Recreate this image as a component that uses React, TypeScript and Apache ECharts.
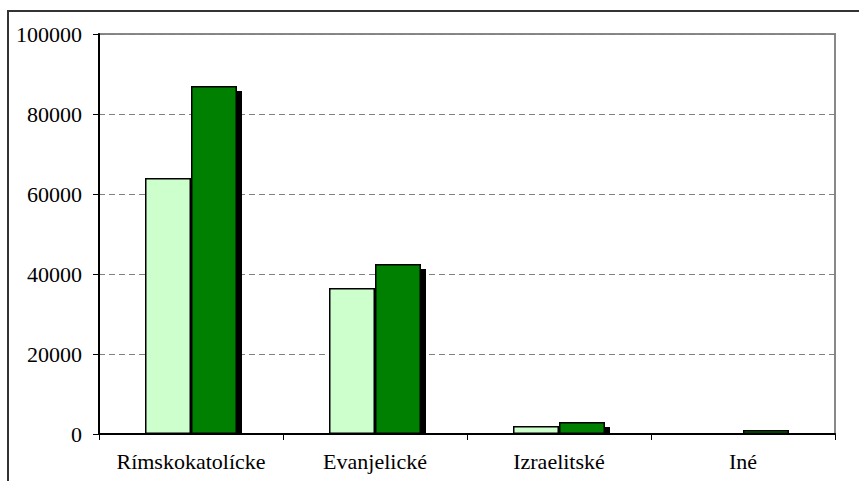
import React, { useEffect, useRef } from "react";
import * as echarts from "echarts";

const categories = ["Rímskokatolícke", "Evanjelické", "Izraelitské", "Iné"];
const seriesLight = [64000, 36500, 2000, 0];
const seriesDark = [87000, 42500, 3000, 1000];
const yTicks = [0, 20000, 40000, 60000, 80000, 100000];

const FONT = "Liberation Serif";

export default function App() {
  const ref = useRef<HTMLDivElement>(null);
  useEffect(() => {
    if (!ref.current) return;
    const chart = echarts.init(ref.current, null, { renderer: "svg" });
    const BAR_W = 46;
    const SH = 5;
    chart.setOption({
      animation: false,
      backgroundColor: "#ffffff",
      textStyle: { fontFamily: FONT },
      graphic: [
        {
          type: "rect",
          shape: { x: 8, y: 11, width: 900, height: 520 },
          style: { fill: "none", stroke: "#333333", lineWidth: 2 },
          z: 100,
          silent: true,
        },
      ],
      grid: {
        left: 99,
        right: 24,
        top: 34,
        bottom: 47,
        show: true,
        borderColor: "#888888",
        borderWidth: 2,
      },
      xAxis: {
        type: "category",
        data: categories,
        boundaryGap: true,
        axisLine: { lineStyle: { color: "#000000", width: 2 } },
        axisTick: { show: true, interval: 0, alignWithLabel: false, length: 6, lineStyle: { color: "#000000", width: 1 } },
        axisLabel: { interval: 0, color: "#000000", fontSize: 22, fontFamily: FONT, margin: 16 },
        splitLine: { show: false },
      },
      yAxis: {
        type: "value",
        min: yTicks[0],
        max: yTicks[yTicks.length - 1],
        interval: 20000,
        axisLine: { show: true, lineStyle: { color: "#000000", width: 2 } },
        axisTick: { show: true, length: 6, lineStyle: { color: "#000000", width: 1 } },
        axisLabel: {
          color: "#000000",
          fontSize: 22,
          fontFamily: FONT,
          margin: 17,
          formatter: (v: number) => String(v),
        },
        splitLine: { show: true, lineStyle: { color: "#808080", type: [6, 4], width: 1 } },
      },
      series: [
        {
          type: "custom",
          name: "shadow",
          z: 1,
          data: seriesDark.map((v, i) => [i, v]),
          renderItem: (params: any, api: any) => {
            const idx = api.value(0);
            const val = api.value(1);
            const top = api.coord([idx, val]);
            const base = api.coord([idx, 0]);
            const y1 = top[1] + SH;
            const h = base[1] - y1;
            if (h <= 0) return null;
            return {
              type: "rect",
              shape: { x: top[0] + SH, y: y1, width: BAR_W, height: h },
              style: { fill: "#000000" },
            };
          },
        },
        {
          type: "bar",
          name: "A",
          z: 2,
          data: seriesLight,
          barWidth: BAR_W,
          barGap: "0%",
          itemStyle: { color: "#CCFFCC", borderColor: "#000000", borderWidth: 1.5 },
        },
        {
          type: "bar",
          name: "B",
          z: 2,
          data: seriesDark,
          barWidth: BAR_W,
          barGap: "0%",
          itemStyle: { color: "#008000", borderColor: "#000000", borderWidth: 1.5 },
        },
      ],
    });
    return () => chart.dispose();
  }, []);
  return <div ref={ref} style={{ width: 859, height: 481, position: "absolute", left: 0, top: 0 }} />;
}
